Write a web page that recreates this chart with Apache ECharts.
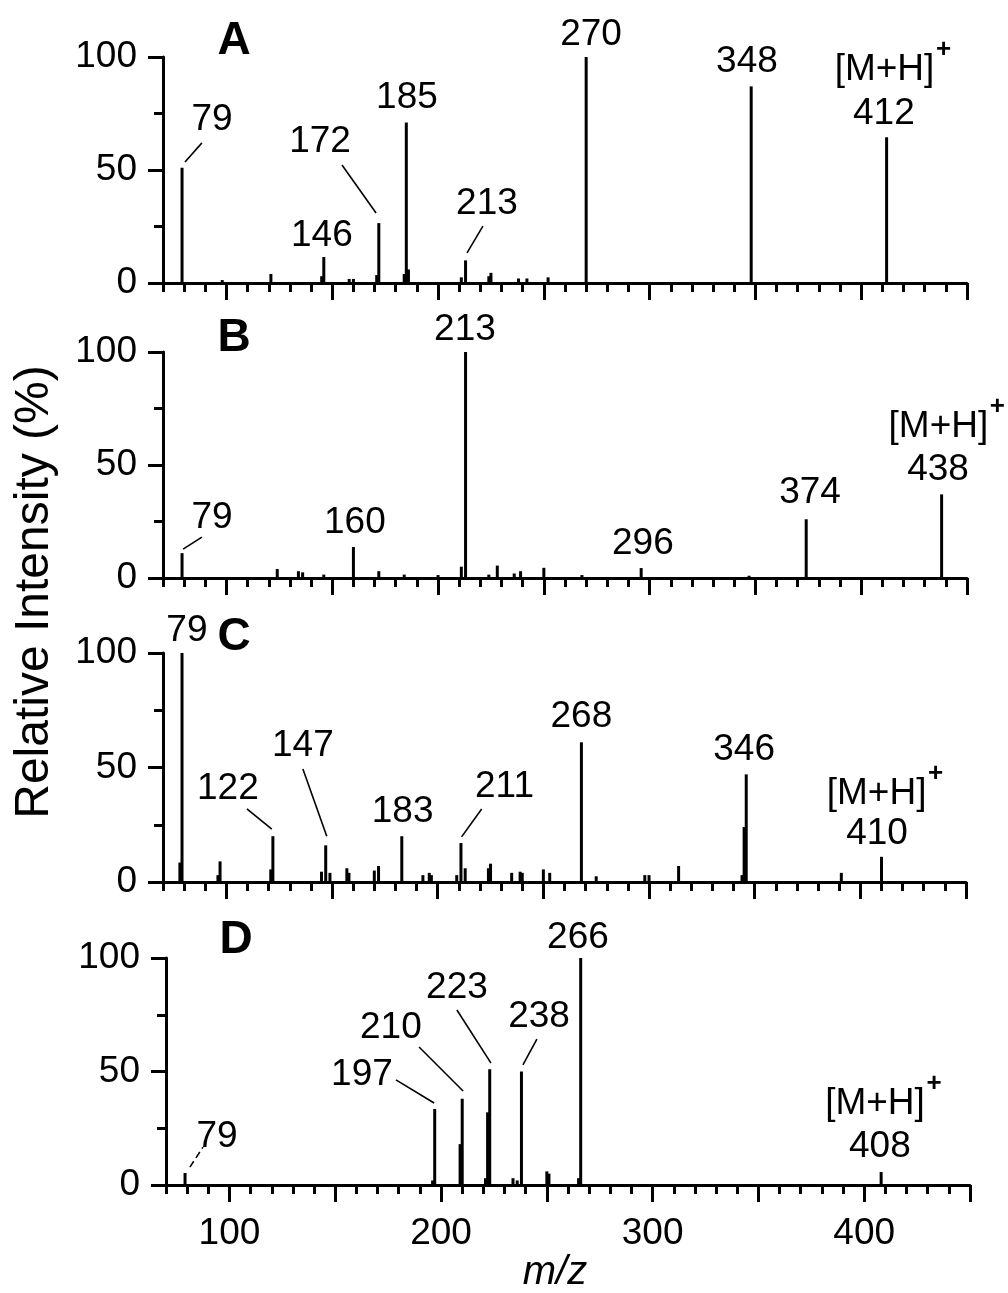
<!DOCTYPE html>
<html>
<head>
<meta charset="utf-8">
<script src="https://cdn.jsdelivr.net/npm/echarts@6/dist/echarts.min.js"></script>
<style>
  html, body { margin: 0; padding: 0; background: #fff; }
  #chart { width: 1008px; height: 1293px; }
</style>
</head>
<body>
<div id="chart"></div>
<script>
// -- m/z axis (shared by all four spectra) --
const MZ_MIN = 70;
const MZ_MAX = 450;
const MZ_STEP = 10;
const majorTicks = [100, 150, 200, 250, 300, 350, 400, 450];
const mzLabels = [100, 200, 300, 400];

// -- peaks [m/z, relative intensity %] --
const peaksA = [
  [79, 51], [98, 1.3], [121, 4], [145, 3], [146, 11.5], [158, 1.8], [160, 1.8],
  [171, 3.5], [172, 26.5], [184, 4], [185, 71], [186, 6], [211, 2.5], [213, 10],
  [224, 3], [225, 4.5], [238, 2], [242, 2], [252, 2.5], [270, 100], [348, 87], [412, 64.5]
];
const peaksB = [
  [79, 11], [124, 4], [134, 3], [136, 2.5], [146, 1.5], [160, 13.7], [172, 3],
  [184, 1.5], [200, 1.3], [211, 5], [213, 100], [224, 1.5], [228, 5.5], [236, 2],
  [239, 3], [250, 4.5], [268, 1.3], [296, 4.4], [347, 1], [374, 26], [438, 37]
];
const peaksC = [
  [78, 8.5], [79, 100], [96, 3], [97, 9], [121, 5.5], [122, 20], [145, 4.5],
  [147, 16], [149, 4], [157, 6], [158, 4], [170, 5], [172, 7], [183, 20], [193, 3],
  [196, 4], [197, 3], [209, 3], [211, 17], [213, 6], [224, 6], [225, 8], [235, 4],
  [239, 4.5], [240, 4], [250, 5.5], [253, 4], [268, 61], [275, 2.5], [298, 3],
  [300, 3], [314, 7], [344, 3], [345, 24], [346, 47], [391, 4], [410, 11]
];
const peaksD = [
  [79, 5.3], [196, 2], [197, 33.5], [209, 18], [210, 38], [221, 3], [222, 32],
  [223, 51], [234, 3], [236, 2], [238, 50], [250, 6], [251, 5], [265, 3],
  [266, 100], [408, 5.7]
];

// labelled peaks (the last one of each spectrum is the [M+H]+ ion)
const tagsA = [79, 146, 172, 185, 213, 270, 348, 412];
const tagsB = [79, 160, 213, 296, 374, 438];
const tagsC = [79, 122, 147, 183, 211, 268, 346, 410];
const tagsD = [79, 197, 210, 223, 238, 266, 408];
const panelNames = ['A', 'B', 'C', 'D'];

// -- label placement, in data units (m/z, %) --
const layoutA = {
  79:  { at: [93.2, 72], lead: [[80.4, 53.5], [88.4, 62]] },
  146: { at: [145.1, 20.8] },
  172: { at: [144.2, 62.4], lead: [[154.6, 52.2], [170.7, 31]] },
  185: { at: [185.3, 81.9] },
  213: { at: [223.1, 35], lead: [[221.2, 25.2], [213.7, 13.3]] },
  270: { at: [272.3, 110] },
  348: { at: [346, 98] },
  412: { at: [410.7, 75], ion: [411, 94.2] }
};
const layoutB = {
  79:  { at: [93.2, 26.5], lead: [[79.5, 12.8], [88.4, 18.1]] },
  160: { at: [160.7, 24.3] },
  213: { at: [212.7, 109.7] },
  296: { at: [296.8, 15] },
  374: { at: [375.8, 37.6] },
  438: { at: [436.3, 47.8], ion: [436.5, 66.8] }
};
const layoutC = {
  79:  { at: [81.3, 109.6] },
  122: { at: [100.7, 40.6], lead: [[109.7, 31.9], [121.5, 23.1]] },
  147: { at: [136.2, 59.4], lead: [[136.2, 49.3], [147.5, 20]] },
  183: { at: [183.4, 30.6] },
  211: { at: [231.6, 41.5], lead: [[220.8, 31.9], [211.3, 19.7]] },
  268: { at: [268, 72] },
  346: { at: [345, 57.6] },
  410: { at: [407.9, 21], ion: [407.7, 38.4] }
};
const layoutD = {
  79:  { at: [94.1, 21.1], lead: [[81.3, 7.9], [87.5, 16.7]], dash: true },
  197: { at: [162.6, 48.5], lead: [[178.7, 46.3], [196.7, 36.1]] },
  210: { at: [176.3, 69.2], lead: [[189.6, 60.8], [210.4, 41.4]] },
  223: { at: [207.5, 86.8], lead: [[207.5, 77.1], [223.6, 53.7]] },
  238: { at: [246.3, 74], lead: [[245.3, 64.3], [238.7, 52.9]] },
  266: { at: [264.7, 108.8] },
  408: { at: [407.4, 16.7], ion: [405.1, 35.7] }
};

const FONT = '"Liberation Sans", Arial, Helvetica, sans-serif';
const INK = '#000';

// grid boxes (px) for the four stacked spectra
const grids = [
  { left: 163, top: 57, width: 804, height: 226 },
  { left: 163, top: 352, width: 804, height: 226 },
  { left: 163, top: 653, width: 803, height: 229 },
  { left: 166, top: 958, width: 804, height: 227 }
];
const letterPos = [[234, 41], [234, 338], [234, 637], [236, 940]];

const spectra = [
  { peaks: peaksA, tags: tagsA, layout: layoutA },
  { peaks: peaksB, tags: tagsB, layout: layoutB },
  { peaks: peaksC, tags: tagsC, layout: layoutC },
  { peaks: peaksD, tags: tagsD, layout: layoutD }
];

function intensityOf(peaks, mz) {
  const p = peaks.find(d => d[0] === mz);
  return p ? p[1] : 0;
}

function annotationRenderer(spec) {
  return function (params, api) {
    const mz = spec.tags[params.dataIndex];
    const lay = spec.layout[mz];
    const children = [];
    const p = api.coord(lay.at);
    children.push({
      type: 'text', x: p[0], y: p[1],
      style: { text: String(mz), fontFamily: FONT, fontSize: 37, fill: INK, align: 'center', verticalAlign: 'middle' }
    });
    if (lay.lead) {
      const a = api.coord(lay.lead[0]);
      const b = api.coord(lay.lead[1]);
      children.push({
        type: 'line',
        shape: { x1: a[0], y1: a[1], x2: b[0], y2: b[1] },
        style: { stroke: INK, lineWidth: 1.6, lineDash: lay.dash ? [7, 4] : null }
      });
    }
    if (lay.ion) {
      const q = api.coord(lay.ion);
      children.push({
        type: 'text', x: q[0], y: q[1],
        style: { text: '[M+H]', fontFamily: FONT, fontSize: 37, fill: INK, align: 'center', verticalAlign: 'middle' }
      });
      // superscript charge
      children.push({
        type: 'text', x: q[0] + 59, y: q[1] - 20,
        style: { text: '+', fontFamily: FONT, fontSize: 26, fontWeight: 'bold', fill: INK, align: 'center', verticalAlign: 'middle' }
      });
    }
    return { type: 'group', children };
  };
}

const xAxes = [];
const yAxes = [];
const series = [];

grids.forEach((g, i) => {
  const last = i === grids.length - 1;
  // minor ticks every 10
  xAxes.push({
    type: 'value', gridIndex: i, position: 'bottom', min: MZ_MIN, max: MZ_MAX, interval: MZ_STEP,
    axisLine: { onZero: false, lineStyle: { color: INK, width: 3 } },
    axisTick: { length: 9, lineStyle: { color: INK, width: 3 } },
    axisLabel: {
      show: last, margin: 30, fontSize: 37, fontFamily: FONT, color: INK,
      formatter: v => (mzLabels.includes(v) ? String(v) : '')
    },
    splitLine: { show: false }
  });
  // long ticks every 50
  xAxes.push({
    type: 'value', gridIndex: i, position: 'bottom', min: MZ_MIN, max: MZ_MAX,
    axisLine: { show: false, onZero: false },
    axisTick: { show: true, length: 17, customValues: majorTicks, lineStyle: { color: INK, width: 3 } },
    axisLabel: { show: false },
    splitLine: { show: false }
  });
  yAxes.push({
    type: 'value', gridIndex: i, min: 0, max: 100, interval: 50,
    axisLine: { show: true, lineStyle: { color: INK, width: 3 } },
    axisTick: { show: true, length: 15, lineStyle: { color: INK, width: 3 } },
    minorTick: { show: true, splitNumber: 2, length: 9, lineStyle: { color: INK, width: 3 } },
    axisLabel: { margin: 26, fontSize: 37, fontFamily: FONT, color: INK },
    splitLine: { show: false }
  });

  const spec = spectra[i];
  series.push({
    type: 'bar', xAxisIndex: 2 * i, yAxisIndex: i,
    data: spec.peaks, barWidth: 3,
    itemStyle: { color: INK }, silent: true
  });
  series.push({
    type: 'custom', xAxisIndex: 2 * i, yAxisIndex: i, clip: false, z: 5,
    data: spec.tags.map(mz => [mz, intensityOf(spec.peaks, mz)]),
    renderItem: annotationRenderer(spec)
  });
});

const graphics = panelNames.map((name, i) => ({
  type: 'text', x: letterPos[i][0], y: letterPos[i][1],
  style: { text: name, fontFamily: FONT, fontSize: 46, fontWeight: 'bold', fill: INK, align: 'center', verticalAlign: 'middle' }
}));
graphics.push({
  type: 'text', x: 35, y: 592, rotation: Math.PI / 2,
  style: { text: 'Relative Intensity (%)', fontFamily: FONT, fontSize: 48, fill: INK, align: 'center', verticalAlign: 'middle' }
});
graphics.push({
  type: 'text', x: 555, y: 1273,
  style: { text: 'm/z', fontFamily: FONT, fontSize: 40, fontStyle: 'italic', fill: INK, align: 'center', verticalAlign: 'middle' }
});

const chart = echarts.init(document.getElementById('chart'), null, { renderer: 'canvas' });
chart.setOption({
  animation: false,
  backgroundColor: '#fff',
  grid: grids.map(g => Object.assign({ containLabel: false }, g)),
  xAxis: xAxes,
  yAxis: yAxes,
  series,
  graphic: graphics
});
</script>
</body>
</html>
